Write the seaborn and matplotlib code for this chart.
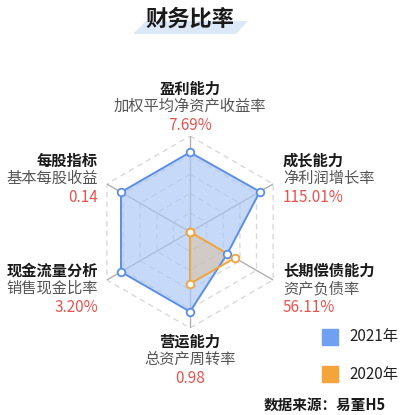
import numpy as np
import pandas as pd
import matplotlib
matplotlib.use("Agg")
import matplotlib.pyplot as plt
from matplotlib.patches import Polygon, Rectangle
import seaborn as sns

# Radar categories (clockwise from the top)
categories = ["盈利能力", "成长能力", "长期偿债能力", "营运能力", "现金流量分析", "每股指标"]
indicators = ["加权平均净资产收益率", "净利润增长率", "资产负债率", "总资产周转率", "销售现金比率", "基本每股收益"]
value_labels = ["7.69%", "115.01%", "56.11%", "0.98", "3.20%", "0.14"]

# Normalised scores on a 0-100 scale
scores_2021 = [83, 84, 45, 83, 83, 83]
scores_2020 = [0, 0, 54, 54, 0, 0]
series_names = ["2021年", "2020年"]

ring_levels = [20, 40, 60, 80, 100]

sns.set_theme(style="white")
plt.rcParams["font.family"] = ["Noto Sans CJK SC", "DejaVu Sans"]

W, H = 407, 415
fig = plt.figure(figsize=(W / 100, H / 100), dpi=100)
fig.patch.set_facecolor("white")


def fx(px):
    return px / W


def fy(py):
    return 1 - py / H


cx, cy, R = 190, 232, 96
ax = fig.add_axes([fx(cx - R), fy(cy + R), 2 * R / W, 2 * R / H], projection="polar")
ax.set_theta_offset(np.pi / 2)
ax.set_theta_direction(-1)
ax.set_ylim(0, 100)
ax.grid(False)
ax.spines["polar"].set_visible(False)
ax.set_xticks([])
ax.set_yticks([])
ax.patch.set_alpha(0)

n = len(categories)
angles = np.linspace(0, 2 * np.pi, n, endpoint=False)
closed_angles = np.append(angles, angles[0] + 2 * np.pi)

# Dashed hexagonal rings
for lvl in ring_levels:
    ax.plot(closed_angles, [lvl] * (n + 1), color="#d9d9d9", lw=1.0,
            ls=(0, (4, 3)), zorder=1)
# Spokes
for a in angles:
    ax.plot([a, a], [0, 100], color="#b0b0b0", lw=1.0, zorder=1)

blue_line, blue_fill = "#5b8ee6", "#a9c6f5"
orange_line, orange_fill = "#f2a53c", "#f2a53c"

for scores, line_c, fill_c, alpha in [
    (scores_2021, blue_line, blue_fill, 0.65),
    (scores_2020, orange_line, orange_fill, 0.25),
]:
    r = np.append(scores, scores[0])
    df = pd.DataFrame({"theta": closed_angles, "r": r})
    ax.fill(df["theta"], df["r"], color=fill_c, alpha=alpha, lw=0, zorder=2)
    sns.lineplot(data=df, x="theta", y="r", sort=False, estimator=None,
                 color=line_c, lw=1.4, ax=ax, zorder=3)
    sns.scatterplot(x=angles, y=scores, s=30, color="white", edgecolor=line_c,
                    linewidth=1.3, ax=ax, zorder=4)

ax.set_xlabel("")
ax.set_ylabel("")
ax.set_ylim(0, 100)

# Category labels around the radar
label_pos = [
    (190, 89, "center"),
    (283, 161, "left"),
    (283, 271, "left"),
    (190, 342, "center"),
    (98, 271, "right"),
    (98, 161, "right"),
]
for (x, y, ha), cat, ind, val in zip(label_pos, categories, indicators, value_labels):
    fig.text(fx(x), fy(y), cat, ha=ha, va="center", fontsize=11,
             fontweight="bold", color="#1a1a1a")
    fig.text(fx(x), fy(y + 17.5), ind, ha=ha, va="center", fontsize=11,
             color="#555555")
    fig.text(fx(x), fy(y + 36), val, ha=ha, va="center", fontsize=11,
             color="#e8534f")

# Title with a slanted highlight band
band = Polygon([(fx(133), fy(34)), (fx(146), fy(21)), (fx(248), fy(21)), (fx(236), fy(34))],
               closed=True, transform=fig.transFigure, facecolor="#dbe8f8",
               edgecolor="none", zorder=0)
fig.patches.append(band)
fig.text(fx(190), fy(19), "财务比率", ha="center", va="center", fontsize=16,
         fontweight="bold", color="#1a1a1a", zorder=2)

# Legend
for (y, name, c) in [(337, series_names[0], "#6fa0f2"), (374, series_names[1], "#f5a43a")]:
    sq = Rectangle((fx(322), fy(y + 8)), 16 / W, 16 / H, transform=fig.transFigure,
                   facecolor=c, edgecolor=c)
    fig.patches.append(sq)
    fig.text(fx(349), fy(y), name, ha="left", va="center", fontsize=11, color="#222222")

fig.text(fx(386), fy(405), "数据来源：易董H5", ha="right", va="center", fontsize=10.5,
         fontweight="bold", style="italic", color="#1a1a1a")

fig.savefig("out.png", dpi=100, facecolor="white")
